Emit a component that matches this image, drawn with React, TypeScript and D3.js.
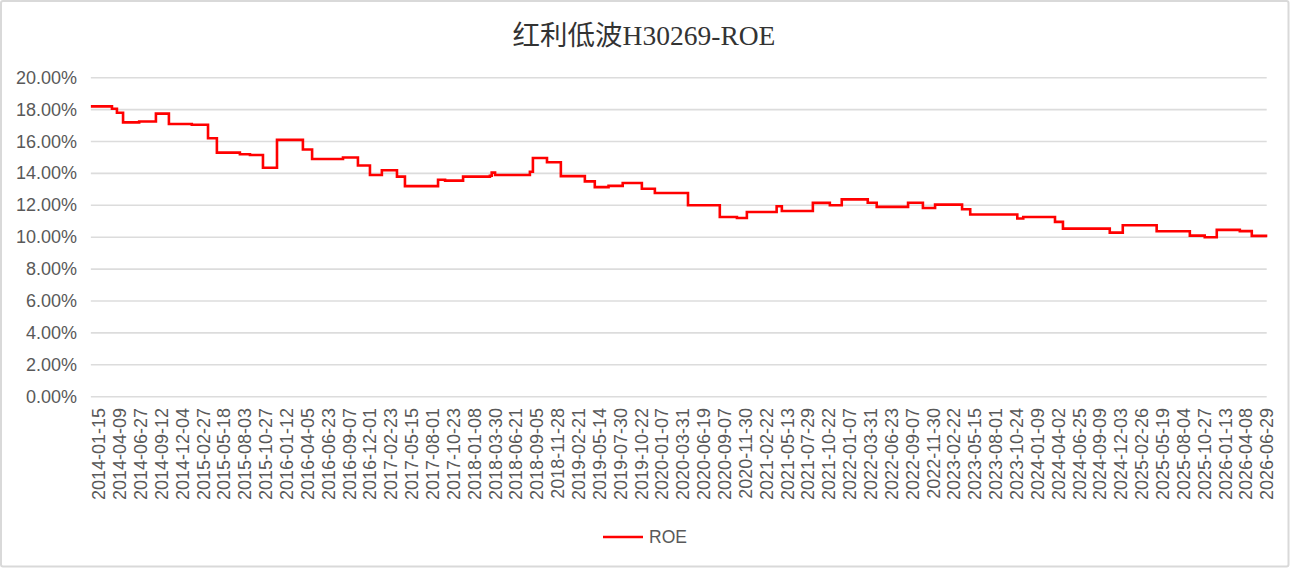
import React from "react";
import * as d3 from "d3";

const chartTitle = "红利低波H30269-ROE";
const seriesName = "ROE";

// x-axis tick labels (every ~55 trading days)
const tickLabels = [
  "2014-01-15", "2014-04-09", "2014-06-27", "2014-09-12", "2014-12-04",
  "2015-02-27", "2015-05-18", "2015-08-03", "2015-10-27", "2016-01-12",
  "2016-04-05", "2016-06-23", "2016-09-07", "2016-12-01", "2017-02-23",
  "2017-05-15", "2017-08-01", "2017-10-23", "2018-01-08", "2018-03-30",
  "2018-06-21", "2018-09-05", "2018-11-28", "2019-02-21", "2019-05-14",
  "2019-07-30", "2019-10-22", "2020-01-07", "2020-03-31", "2020-06-19",
  "2020-09-07", "2020-11-30", "2021-02-22", "2021-05-13", "2021-07-29",
  "2021-10-22", "2022-01-07", "2022-03-31", "2022-06-23", "2022-09-07",
  "2022-11-30", "2023-02-22", "2023-05-15", "2023-08-01", "2023-10-24",
  "2024-01-09", "2024-04-02", "2024-06-25", "2024-09-09", "2024-12-03",
  "2025-02-26", "2025-05-19", "2025-08-04", "2025-10-27", "2026-01-13",
  "2026-04-08", "2026-06-29",
];

// y-axis ticks (percent)
const yTicks = [0, 2, 4, 6, 8, 10, 12, 14, 16, 18, 20];

// ROE step series: date where a new level starts, and that level (%)
const changeDates = [
  "2013-12-12", "2014-03-07", "2014-03-27", "2014-04-20", "2014-06-20",
  "2014-08-21", "2014-10-10", "2015-01-10", "2015-03-16", "2015-04-19",
  "2015-07-14", "2015-08-22", "2015-10-14", "2015-12-06", "2016-03-16",
  "2016-04-21", "2016-08-14", "2016-10-11", "2016-11-29", "2017-01-16",
  "2017-03-17", "2017-04-17", "2017-08-21", "2017-09-18", "2017-11-26",
  "2018-03-08", "2018-03-15", "2018-03-28", "2018-08-09", "2018-08-20",
  "2018-10-14", "2018-12-09", "2019-03-16", "2019-04-24", "2019-06-15",
  "2019-08-07", "2019-10-23", "2019-12-10", "2020-04-18", "2020-08-18",
  "2020-10-25", "2020-12-04", "2021-04-01", "2021-04-21", "2021-08-16",
  "2021-10-24", "2021-12-07", "2022-03-18", "2022-04-23", "2022-08-21",
  "2022-10-18", "2022-12-06", "2023-03-24", "2023-04-25", "2023-10-25",
  "2023-11-16", "2024-03-18", "2024-04-19", "2024-10-17", "2024-12-09",
  "2025-04-24", "2025-08-28", "2025-10-27", "2025-12-11", "2026-03-12",
  "2026-04-29", "2026-06-29",
];
const roeValues = [
  18.2, 18.05, 17.8, 17.2, 17.25,
  17.75, 17.1, 17.05, 16.2, 15.3,
  15.2, 15.15, 14.35, 16.1, 15.5,
  14.9, 15.0, 14.5, 13.9, 14.2,
  13.8, 13.2, 13.6, 13.55, 13.8,
  13.85, 14.05, 13.9, 14.1, 14.97,
  14.7, 13.83, 13.5, 13.14, 13.22,
  13.4, 13.04, 12.77, 12.0, 11.27,
  11.2, 11.58, 11.94, 11.64, 12.15,
  12.0, 12.37, 12.16, 11.9, 12.16,
  11.83, 12.04, 11.75, 11.42, 11.17,
  11.27, 10.96, 10.54, 10.29, 10.75,
  10.37, 10.1, 10.0, 10.46, 10.38,
  10.08, 10.08,
];

const W = 1290;
const H = 568;
const axisFont = "'Liberation Sans', Arial, Helvetica, sans-serif";
const textColor = "#595959";

export default function App() {
  const parse = d3.timeParse("%Y-%m-%d");
  const tickDates = tickLabels.map((s) => parse(s) as Date);

  const xLabel = d3.scalePoint<string>().domain(tickLabels).range([99.3, 1267.3]);
  const x = d3
    .scaleTime()
    .domain(tickDates)
    .range(tickLabels.map((l) => xLabel(l) as number));

  const y = d3.scaleLinear().domain([0, 20]).range([396.7, 77.7]);

  const data = changeDates.map((d, i) => ({ date: parse(d) as Date, value: roeValues[i] }));
  const line = d3
    .line<{ date: Date; value: number }>()
    .x((d) => x(d.date))
    .y((d) => y(d.value))
    .curve(d3.curveStepAfter);

  const gridLeft = x(data[0].date);
  const gridRight = 1266.7;

  return (
    <svg
      width={W}
      height={H}
      viewBox={`0 0 ${W} ${H}`}
      style={{ position: "absolute", left: 0, top: 0, background: "#fff" }}
    >
      <rect x={1} y={1} width={W - 2.5} height={H - 2.5} fill="#fff" stroke="#d9d9d9" strokeWidth={2} rx={2} />
      <text
        x={644}
        y={45}
        textAnchor="middle"
        fontSize={27.5}
        fill="#333"
        fontFamily="'Liberation Serif', 'Noto Sans CJK SC', serif"
      >
        {chartTitle}
      </text>

      {yTicks.map((t) => (
        <g key={t}>
          <line x1={gridLeft} x2={gridRight} y1={y(t)} y2={y(t)} stroke="#dcdcdc" strokeWidth={1.6} />
          <text
            x={77}
            y={y(t)}
            textAnchor="end"
            dominantBaseline="central"
            fontSize={18}
            fill={textColor}
            fontFamily={axisFont}
          >
            {t.toFixed(2) + "%"}
          </text>
        </g>
      ))}

      {tickLabels.map((l) => {
        const px = xLabel(l) as number;
        return (
          <text
            key={l}
            transform={`translate(${px},408) rotate(-90)`}
            textAnchor="end"
            dominantBaseline="central"
            fontSize={18}
            fill={textColor}
            fontFamily={axisFont}
          >
            {l}
          </text>
        );
      })}

      <path d={line(data) || ""} fill="none" stroke="#ff0000" strokeWidth={2.6} strokeLinejoin="miter" />

      <line x1={603} x2={643} y1={537} y2={537} stroke="#ff0000" strokeWidth={2.6} />
      <text x={649} y={537} dominantBaseline="central" fontSize={17.5} fill={textColor} fontFamily={axisFont}>
        {seriesName}
      </text>
    </svg>
  );
}
